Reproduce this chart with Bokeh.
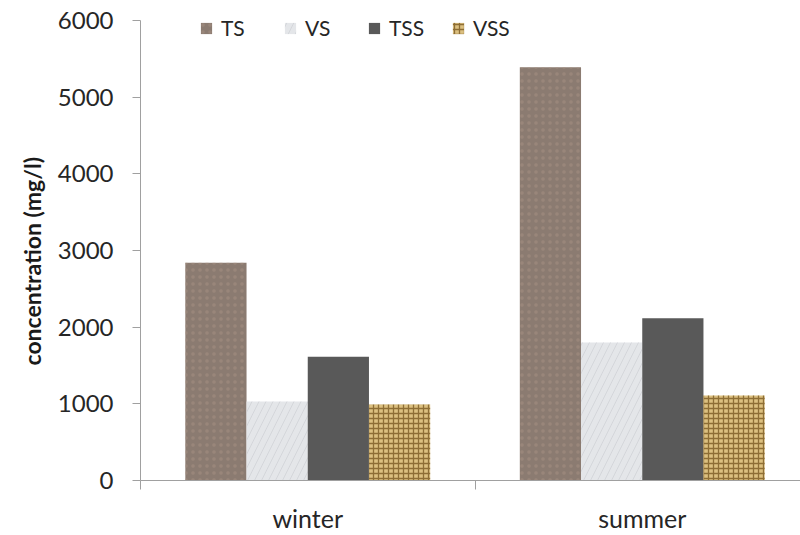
from bokeh.plotting import figure
from bokeh.models import Range1d, FixedTicker, Legend, LegendItem, ColumnDataSource, Title
from bokeh.embed import file_html
from bokeh.resources import INLINE

# Solids concentration by season (mg/l)
seasons = ["winter", "summer"]
series = ["TS", "VS", "TSS", "VSS"]
ts = [2840, 5390]
vs = [1030, 1800]
tss = [1615, 2115]
vss = [990, 1110]
y_ticks = [0, 1000, 2000, 3000, 4000, 5000, 6000]

values = {"TS": ts, "VS": vs, "TSS": tss, "VSS": vss}

FONT = "Lato"
TEXT = "#262626"
AXIS = "#a0a0a0"

styles = {
    "TS": dict(fill_color="#8b7b71", hatch_pattern="dot", hatch_color="#a89284",
               hatch_scale=7, hatch_alpha=0.5),
    "VS": dict(fill_color="#e4e6e9", hatch_pattern="right_diagonal_line",
               hatch_color="#c9ccd1", hatch_scale=14, hatch_alpha=0.6),
    "TSS": dict(fill_color="#595959"),
    "VSS": dict(fill_color="#dcc080", hatch_pattern="cross", hatch_color="#7a5a22",
                hatch_scale=5, hatch_weight=1.3, hatch_alpha=0.8),
}

bar_w = 0.183
offsets = [-1.5 * bar_w, -0.5 * bar_w, 0.5 * bar_w, 1.5 * bar_w]

# headroom above the 6000 tick holds the legend; the axis line stops at 6000
y_top = y_ticks[-1] * 483 / 463

p = figure(width=800, height=535, output_backend="svg", toolbar_location=None,
           x_range=Range1d(0, 660 / 334.5), y_range=Range1d(0, y_top),
           min_border_left=140, min_border_right=0, min_border_top=0,
           min_border_bottom=52, x_axis_location="below")
p.outline_line_color = None
p.grid.visible = False
p.background_fill_color = "white"
p.border_fill_color = "white"

items = []
for name, off in zip(series, offsets):
    src = ColumnDataSource(dict(x=[i + 0.5 + off for i in range(len(seasons))],
                                top=values[name]))
    r = p.vbar(x="x", top="top", width=bar_w, source=src, line_color=None,
               **styles[name])
    items.append(LegendItem(label=name, renderers=[r]))

# y axis
ya = p.yaxis[0]
ya.ticker = FixedTicker(ticks=y_ticks)
ya.bounds = (y_ticks[0], y_ticks[-1])
ya.major_label_text_font = FONT
ya.major_label_text_font_size = "24px"
ya.major_label_text_color = TEXT
ya.major_label_standoff = 19
ya.major_tick_in = 0
ya.major_tick_out = 8
ya.minor_tick_line_color = None
ya.axis_line_color = AXIS
ya.major_tick_line_color = AXIS

# vertical axis title
p.add_layout(Title(text="concentration (mg/l)", align="left", offset=115,
                   standoff=18, text_font=FONT, text_font_style="bold",
                   text_font_size="23px", text_color="#1a1a1a"), "left")

# x axis: season names centred, tick marks at category boundaries
xa = p.xaxis[0]
xa.ticker = FixedTicker(ticks=[i + 0.5 for i in range(len(seasons))],
                        minor_ticks=list(range(len(seasons) + 1)))
xa.major_label_overrides = {i + 0.5: s for i, s in enumerate(seasons)}
xa.major_tick_line_color = None
xa.major_tick_in = 0
xa.major_tick_out = 0
xa.minor_tick_in = 0
xa.minor_tick_out = 9
xa.minor_tick_line_color = AXIS
xa.axis_line_color = AXIS
xa.major_label_text_font = FONT
xa.major_label_text_font_size = "25px"
xa.major_label_text_color = TEXT
xa.major_label_standoff = 13

legend = Legend(items=items, orientation="horizontal", location=(59, 440),
                glyph_width=14, glyph_height=14, label_standoff=8,
                label_width=46, spacing=16, padding=0, margin=0,
                border_line_color=None, background_fill_alpha=0,
                label_text_font=FONT, label_text_font_size="21px",
                label_text_line_height=1.0, label_text_color=TEXT)
p.add_layout(legend)

open("out.html", "w").write(file_html(p, INLINE))
